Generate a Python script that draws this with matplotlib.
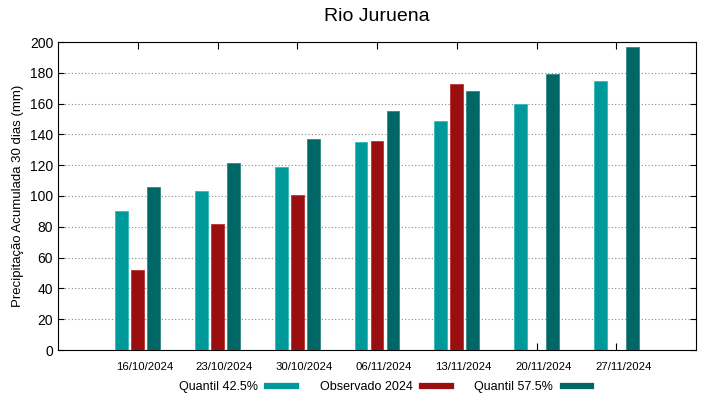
import matplotlib
matplotlib.use('Agg')
import matplotlib.pyplot as plt
import matplotlib.transforms as mtransforms
from matplotlib.lines import Line2D
import numpy as np

plt.rcParams['font.family'] = ['Liberation Sans', 'DejaVu Sans']

datas = ['16/10/2024', '23/10/2024', '30/10/2024', '06/11/2024',
         '13/11/2024', '20/11/2024', '27/11/2024']
quantil_425 = [90.5, 103.5, 119, 135, 148.5, 160, 175]
observado = [52, 82, 100.5, 135.7, 172.5, np.nan, np.nan]
quantil_575 = [106, 121.5, 137, 155, 168, 179, 197]

cor_q1 = '#009999'
cor_obs = '#990f0f'
cor_q2 = '#006666'

fig = plt.figure(figsize=(7.19, 3.99), dpi=100)
ax = fig.add_axes([58 / 719, 1 - 350 / 399, 638 / 719, 308 / 399])

x = np.arange(1, len(datas) + 1)
w = 0.16
ax.bar(x - 0.2, quantil_425, w, color=cor_q1, edgecolor='#33bbbb', linewidth=0.6, zorder=3)
ax.bar(x, observado, w, color=cor_obs, edgecolor='#bb3333', linewidth=0.6, zorder=3)
ax.bar(x + 0.2, quantil_575, w, color=cor_q2, edgecolor='#338888', linewidth=0.6, zorder=3)

ax.set_xlim(0, 8)
ax.set_ylim(0, 200)
ax.set_yticks(np.arange(0, 201, 20))
ax.set_xticks(x)
ax.set_xticklabels(datas, fontsize=8.2)
ax.tick_params(axis='y', labelsize=10, direction='in', right=True, length=4)
ax.tick_params(axis='x', direction='in', top=True, length=5, pad=9)
ax.yaxis.grid(True, linestyle=(0, (1, 2)), color='#888888', linewidth=0.8, zorder=0)
for s in ax.spines.values():
    s.set_linewidth(0.8)

# rótulos de data levemente deslocados para a direita, como no original
desloc = mtransforms.ScaledTranslation(7 / 100, 0, fig.dpi_scale_trans)
for lbl in ax.get_xticklabels():
    lbl.set_transform(lbl.get_transform() + desloc)

ax.set_ylabel('Precipitação Acumulada 30 dias (mm)', fontsize=9.5)
ax.set_title('Rio Juruena', fontsize=14, pad=15)

handles = [Line2D([], [], color=cor_q1, linewidth=4.5),
           Line2D([], [], color=cor_obs, linewidth=4.5),
           Line2D([], [], color=cor_q2, linewidth=4.5)]
fig.legend(handles, ['Quantil 42.5%', 'Observado 2024', 'Quantil 57.5%'],
           loc='center', bbox_to_anchor=(385 / 719, 1 - 387 / 399), ncol=3,
           frameon=False, markerfirst=False, fontsize=9, handlelength=2.3,
           columnspacing=1.9, handletextpad=0.75)

fig.savefig('out.png', dpi=100)
